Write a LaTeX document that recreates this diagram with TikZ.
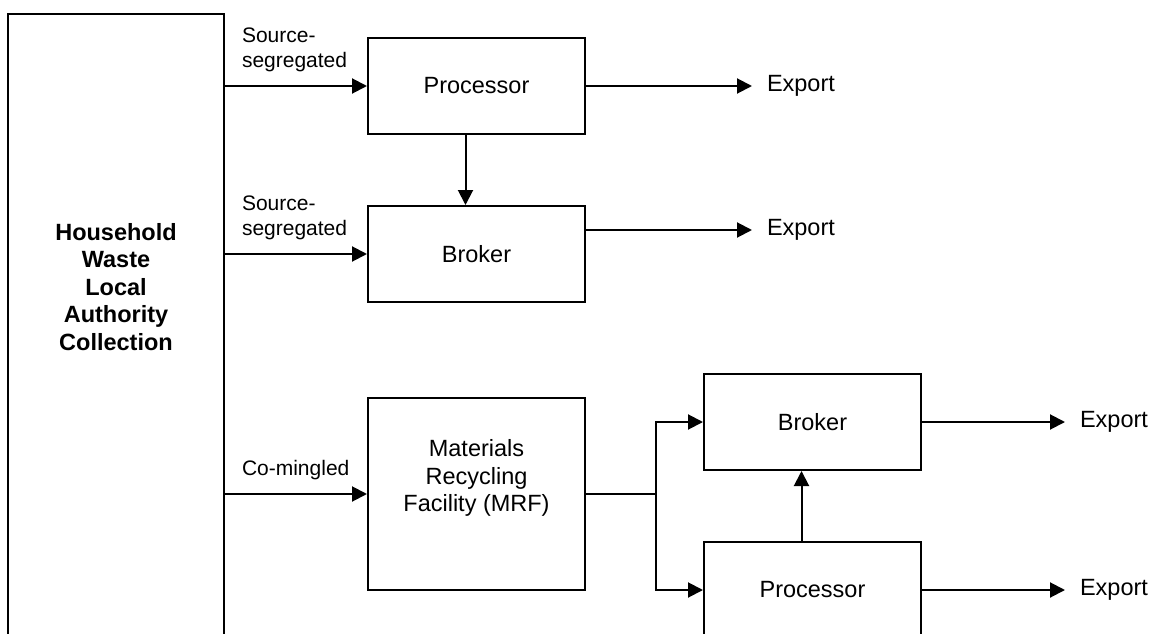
\documentclass[tikz,border=0pt]{standalone}
\usepackage{fontspec}
\setmainfont{Liberation Sans}
\usetikzlibrary{arrows.meta}

\begin{document}
\begin{tikzpicture}[x=1pt,y=-1pt,line width=2pt,
    box/.style={draw,rectangle,minimum width=217pt,minimum height=96pt,align=center,inner sep=0pt,font=\fontsize{23.5}{27.5}\selectfont},
    flow/.style={-{Triangle[length=15pt,width=15pt]}},
    lbl/.style={anchor=west,align=left,inner sep=0pt,font=\fontsize{21}{25}\selectfont},
    export/.style={anchor=west,inner sep=0pt,font=\fontsize{23.5}{27.5}\selectfont}]
    \useasboundingbox (0,0) rectangle (1160,634);
    \clip (0,0) rectangle (1160,634);
    \node[box,minimum width=216pt,minimum height=650pt] (hh) at (116,339) {};
    \node[align=center,font=\fontsize{23.5}{27.5}\selectfont\bfseries] (hhlbl) at (116,287) {Household\\Waste\\Local\\Authority\\Collection};
    \node[box] (proc1) at (476.5,86) {Processor};
    \node[box] (brk1) at (476.5,254) {Broker};
    \node[box,minimum height=192pt] (mrf) at (476.5,494) {};
    \node[align=center,font=\fontsize{23.5}{27.5}\selectfont] (mrflbl) at (476.5,478) {Materials\\Recycling\\Facility (MRF)};
    \node[box] (brk2) at (812.5,422) {Broker};
    \node[box] (proc2) at (812.5,590) {Processor};
    \node[lbl] (src1) at (241,50) {Source-\\segregated};
    \node[lbl] (src2) at (241,218) {Source-\\segregated};
    \node[lbl] (mix) at (241,470) {Co-mingled};
    \node[export] (exp1) at (766,86) {Export};
    \node[export] (exp2) at (766,230) {Export};
    \node[export] (exp3) at (1079,422) {Export};
    \node[export] (exp4) at (1079,590) {Export};
    \coordinate (split) at (656,494);
    \draw[flow] (hh.east |- proc1.west) -- (proc1.west);
    \draw[flow] (hh.east |- brk1.west) -- (brk1.west);
    \draw[flow] (hh.east |- mrf.west) -- (mrf.west);
    \draw[flow] ([xshift=-11pt]proc1.south) -- ([xshift=-11pt]brk1.north);
    \draw[flow] ([xshift=-11pt]proc2.north) -- ([xshift=-11pt]brk2.south);
    \draw (mrf.east) -- (split);
    \draw[flow] (split) |- (brk2.west);
    \draw[flow] (split) |- (proc2.west);
    \draw[flow,shorten >=14pt] (proc1.east |- exp1.west) -- (exp1.west);
    \draw[flow,shorten >=14pt] (brk1.east |- exp2.west) -- (exp2.west);
    \draw[flow,shorten >=14pt] (brk2.east |- exp3.west) -- (exp3.west);
    \draw[flow,shorten >=14pt] (proc2.east |- exp4.west) -- (exp4.west);
\end{tikzpicture}
\end{document}
